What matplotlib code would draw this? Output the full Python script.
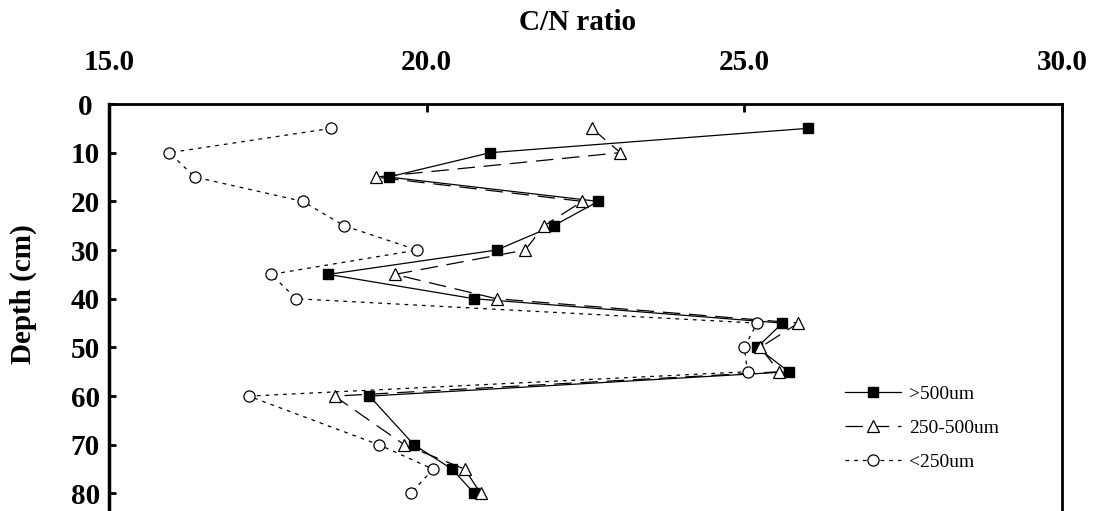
import numpy as np
import matplotlib.pyplot as plt

depth = [5, 10, 15, 20, 25, 30, 35, 40, 45, 50, 55, 60, 70, 75, 80]

cn_large = [26.0, 21.0, 19.4, 22.7, 22.0, 21.1, 18.45, 20.75, 25.6, 25.2, 25.7, 19.1, 19.8, 20.4, 20.75]
cn_mid = [22.6, 23.05, 19.2, 22.45, 21.85, 21.55, 19.5, 21.1, 25.85, 25.25, 25.55, 18.55, 19.65, 20.6, 20.85]
cn_small = [18.5, 15.95, 16.35, 18.05, 18.7, 19.85, 17.55, 17.95, 25.2, 25.0, 25.05, 17.2, 19.25, 20.1, 19.75]

labels = [">500um", "250-500um", "<250um"]
xticks = [15.0, 20.0, 25.0, 30.0]
yticks = [0, 10, 20, 30, 40, 50, 60, 70, 80]

plt.rcParams["font.family"] = "Liberation Serif"

W, H = 1099, 511
fig = plt.figure(figsize=(W / 100, H / 100), dpi=100)
ax = fig.add_axes([109 / W, 0, (1062 - 109) / W, 1 - 104 / H])

ax.plot(cn_large, depth, color="black", lw=0.9, marker="s", ms=7.5,
        mfc="black", mec="black", label=labels[0])
ax.plot(cn_mid, depth, color="black", lw=0.9, ls=(0, (14, 7)), marker="^", ms=8,
        mfc="white", mec="black", mew=0.9, label=labels[1])
ax.plot(cn_small, depth, color="black", lw=0.9, ls=(0, (3, 4)), marker="o", ms=8,
        mfc="white", mec="black", mew=0.9, label=labels[2])

ax.set_xlim(15, 30)
ax.set_ylim(83.6, 0)
ax.set_xticks(xticks)
ax.set_xticklabels(["%.1f" % t for t in xticks])
ax.set_yticks(yticks)
ax.set_yticklabels([str(t) for t in yticks])

# ticks point inward, x axis labelled along the top
ax.xaxis.tick_top()
ax.tick_params(axis="x", direction="in", length=6, width=2, pad=20,
               labelsize=21)
ax.tick_params(axis="y", direction="in", length=5, width=2, pad=17,
               labelsize=21)
for lab in ax.get_xticklabels() + ax.get_yticklabels():
    lab.set_fontweight("bold")
for lab in ax.get_yticklabels():
    lab.set_horizontalalignment("center")

ax.spines["bottom"].set_visible(False)
ax.spines["left"].set_linewidth(2.5)
ax.spines["top"].set_linewidth(2)
ax.spines["right"].set_linewidth(2)

fig.text(578 / W, 1 - 22 / H, "C/N ratio", ha="center", va="center",
         fontsize=21, fontweight="bold")
fig.text(23 / W, 1 - 294 / H, "Depth (cm)", ha="center", va="center",
         rotation=90, fontsize=21, fontweight="bold")

ax.legend(loc="upper left", bbox_to_anchor=(845 / W, 1 - 385 / H),
          bbox_transform=fig.transFigure, frameon=False, fontsize=14,
          handlelength=2.9, handletextpad=0.4, labelspacing=0.85,
          borderpad=0, borderaxespad=0, numpoints=1)

fig.savefig("out.png", dpi=100)
